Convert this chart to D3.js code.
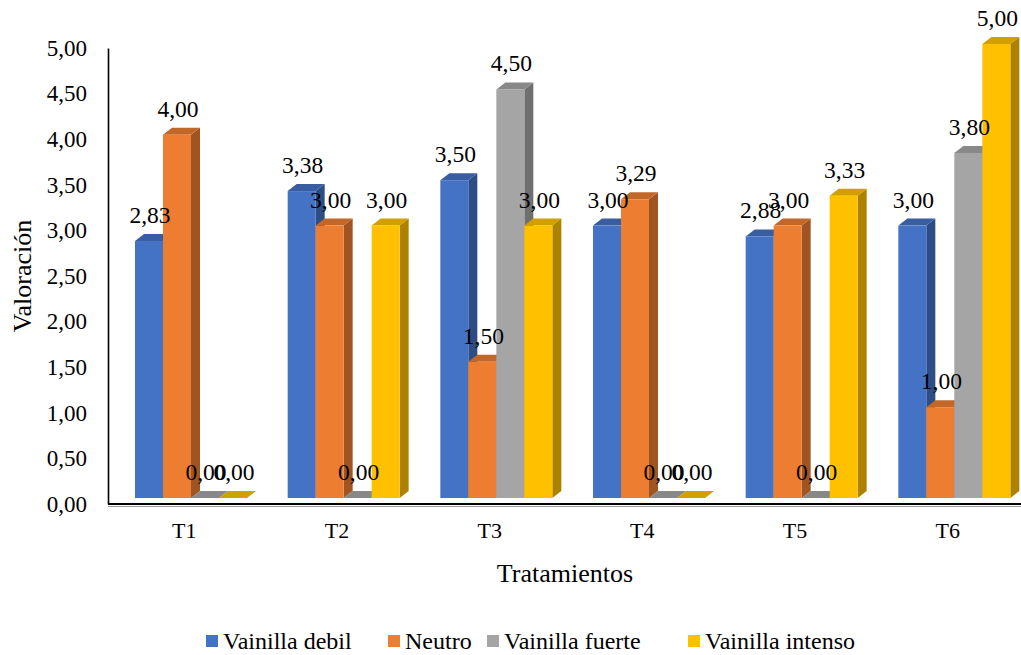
<!DOCTYPE html>
<html>
<head>
<meta charset="utf-8">
<script src="https://cdn.jsdelivr.net/npm/d3@7"></script>
<style>
  html, body { margin: 0; padding: 0; background: #fff; }
  svg { display: block; }
  svg text { font-family: "Times New Roman", "Liberation Serif", "DejaVu Serif", serif !important; fill: #000; }
</style>
</head>
<body>
<svg id="chart" width="1021" height="655"></svg>
<script>
// Sensory rating per treatment and vanilla intensity
const categories = ["T1", "T2", "T3", "T4", "T5", "T6"];
const seriesNames = ["Vainilla debil", "Neutro", "Vainilla fuerte", "Vainilla intenso"];
const vainillaDebil   = [2.83, 3.38, 3.50, 3.00, 2.88, 3.00];
const neutro          = [4.00, 3.00, 1.50, 3.29, 3.00, 1.00];
const vainillaFuerte  = [0.00, 0.00, 4.50, 0.00, 0.00, 3.80];
const vainillaIntenso = [0.00, 3.00, 3.00, 0.00, 3.33, 5.00];
const yTicks = [0, 0.5, 1, 1.5, 2, 2.5, 3, 3.5, 4, 4.5, 5];

const seriesValues = [vainillaDebil, neutro, vainillaFuerte, vainillaIntenso];
const colors = ["#4472C4", "#ED7D31", "#A5A5A5", "#FFC000"];

const svg = d3.select("#chart");
const fmt = v => d3.format(".2f")(v).replace(".", ",");

// Layout
const plotLeft = 108, plotRight = 1024;
const depthX = 9, depthY = -7;       // 3D extrusion offset
const barW = 28, groupInset = 27;

const x = d3.scaleBand().domain(categories).range([plotLeft, plotRight]).padding(0);
const y = d3.scaleLinear().domain([0, 5]).range([498, 44]);        // front face of columns
const yAxisScale = d3.scaleLinear().domain([0, 5]).range([504, 48]); // back wall for the axis

// Value axis
const yAxis = d3.axisLeft(yAxisScale).tickValues(yTicks).tickFormat(fmt).tickSize(0).tickPadding(21);
const gy = svg.append("g").attr("transform", `translate(${plotLeft},0)`).call(yAxis);
gy.select(".domain").attr("stroke", "#000").attr("stroke-width", 1.6);
gy.selectAll("text").attr("font-size", 23);

// Category axis
const xAxis = d3.axisBottom(x).tickSize(0).tickPadding(18);
const gx = svg.append("g").attr("transform", `translate(0,${yAxisScale(0)})`).call(xAxis);
gx.select(".domain").attr("stroke", "#000").attr("stroke-width", 2).attr("d", `M${plotLeft},0H${plotRight}`);
gx.selectAll("text").attr("font-size", 22);
svg.append("line").attr("x1", plotLeft).attr("x2", plotRight)
  .attr("y1", yAxisScale(0) + 2.5).attr("y2", yAxisScale(0) + 2.5)
  .attr("stroke", "#9a9a9a").attr("stroke-width", 1);

// Columns
const bars = [];
categories.forEach((c, i) => {
  seriesValues.forEach((vals, s) => {
    const x0 = x(c) + groupInset + s * barW;
    bars.push({ c, s, v: vals[i], x0, x1: x0 + barW });
  });
});

const gBars = svg.append("g");
bars.forEach(b => {
  const base = d3.color(colors[b.s]);
  const side = base.darker(1.1);
  const top = base.darker(0.55);
  const yt = y(b.v), yb = y(0);
  const g = gBars.append("g");
  // side face
  g.append("path")
    .attr("d", `M${b.x1},${yb}L${b.x1 + depthX},${yb + depthY}L${b.x1 + depthX},${yt + depthY}L${b.x1},${yt}Z`)
    .attr("fill", side);
  // top face
  g.append("path")
    .attr("d", `M${b.x0},${yt}L${b.x0 + depthX},${yt + depthY}L${b.x1 + depthX},${yt + depthY}L${b.x1},${yt}Z`)
    .attr("fill", top);
  // front face
  if (b.v > 0) {
    g.append("rect")
      .attr("x", b.x0).attr("y", yt).attr("width", barW).attr("height", yb - yt)
      .attr("fill", base);
  }
});

// Value labels
svg.append("g").selectAll("text").data(bars).join("text")
  .attr("x", d => (d.x0 + d.x1) / 2 + 1)
  .attr("y", d => y(d.v) - 18)
  .attr("text-anchor", "middle")
  .attr("font-size", 23.5)
  .text(d => fmt(d.v));

// Axis titles
svg.append("text")
  .attr("transform", "translate(31,276) rotate(-90)")
  .attr("text-anchor", "middle")
  .attr("font-size", 26)
  .text("Valoración");

svg.append("text")
  .attr("x", 565).attr("y", 582)
  .attr("text-anchor", "middle")
  .attr("font-size", 26)
  .text("Tratamientos");

// Legend
const legendX = [206, 388, 487, 688];
const legend = svg.append("g");
seriesNames.forEach((n, i) => {
  legend.append("rect")
    .attr("x", legendX[i]).attr("y", 635).attr("width", 12).attr("height", 12)
    .attr("fill", colors[i]);
  legend.append("text")
    .attr("x", legendX[i] + 17).attr("y", 649)
    .attr("font-size", 24)
    .text(n);
});
</script>
</body>
</html>
